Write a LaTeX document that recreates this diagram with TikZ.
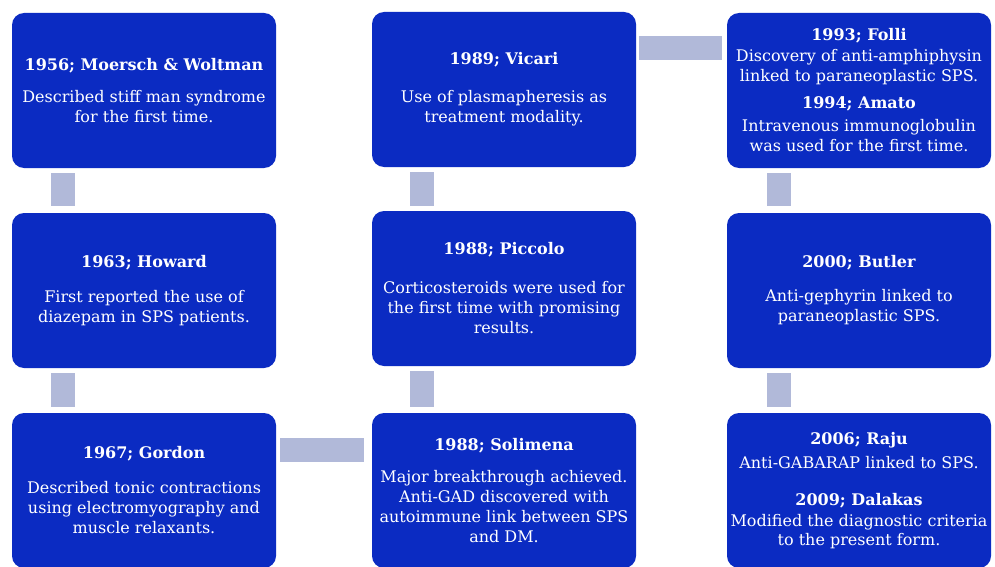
\documentclass[tikz,border=0pt]{standalone}
\usepackage{fontspec}
\setmainfont{DejaVu Serif}
\definecolor{boxblue}{HTML}{0B2BC2}
\definecolor{connfill}{HTML}{B1B9D9}
\begin{document}
\begin{tikzpicture}[x=1pt,y=-1pt,
  tbox/.style={rectangle, rounded corners=12pt, fill=boxblue, text=white,
    minimum width=264pt, minimum height=155pt, align=center, inner sep=0pt,
    font=\fontsize{16}{20}\selectfont},
  conn/.style={draw=connfill, line width=24pt, line cap=butt},
]
\fill[white] (0,0) rectangle (995,567);
\useasboundingbox (0,0) rectangle (995,567);
\clip (0,0) rectangle (995,567);

% column 1
\node[tbox] (A) at (144,90.5) {\textbf{1956; Moersch \& Woltman}\\[12pt]Described stiff man syndrome\\for the first time.};
\node[tbox] (B) at (144,290.5) {\textbf{1963; Howard}\\[15pt]First reported the use of\\diazepam in SPS patients.};
\node[tbox] (C) at (144,490.5) {\textbf{1967; Gordon}\\[15pt]Described tonic contractions\\using electromyography and\\muscle relaxants.};
% column 2
\node[tbox] (D) at (504,490.5) {\textbf{1988; Solimena}\\[12pt]Major breakthrough achieved.\\Anti-GAD discovered with\\autoimmune link between SPS\\and DM.};
\node[tbox] (E) at (504,288.5) {\textbf{1988; Piccolo}\\[19pt]Corticosteroids were used for\\the first time with promising\\results.};
\node[tbox] (F) at (504,89.5) {\textbf{1989; Vicari}\\[18pt]Use of plasmapheresis as\\treatment modality.};
% column 3
\node[tbox] (G) at (859,90.5) {\textbf{1993; Folli}\\[1pt]Discovery of anti-amphiphysin\\linked to paraneoplastic SPS.\\[7pt]\textbf{1994; Amato}\\[3pt]Intravenous immunoglobulin\\was used for the first time.};
\node[tbox] (H) at (859,290.5) {\textbf{2000; Butler}\\[14pt]Anti-gephyrin linked to\\paraneoplastic SPS.};
\node[tbox] (I) at (859,490.5) {\textbf{2006; Raju}\\[4pt]Anti-GABARAP linked to SPS.\\[17pt]\textbf{2009; Dalakas}\\[1pt]Modified the diagnostic criteria\\[-1pt]to the present form.};

% connectors
\draw[conn, shorten <=5pt, shorten >=7pt] (A.south -| 63,0) -- (B.north -| 63,0);
\draw[conn, shorten <=5pt, shorten >=6pt] (B.south -| 63,0) -- (C.north -| 63,0);
\draw[conn, shorten <=4pt, shorten >=8pt] (C.east |- 0,450) -- (D.west |- 0,450);
\draw[conn, shorten <=6pt, shorten >=5pt] (D.north -| 422,0) -- (E.south -| 422,0);
\draw[conn, shorten <=5pt, shorten >=5pt] (E.north -| 422,0) -- (F.south -| 422,0);
\draw[conn, shorten <=3pt, shorten >=5pt] (F.east |- 0,48) -- (G.west |- 0,48);
\draw[conn, shorten <=5pt, shorten >=7pt] (G.south -| 779,0) -- (H.north -| 779,0);
\draw[conn, shorten <=5pt, shorten >=6pt] (H.south -| 779,0) -- (I.north -| 779,0);
\end{tikzpicture}
\end{document}
